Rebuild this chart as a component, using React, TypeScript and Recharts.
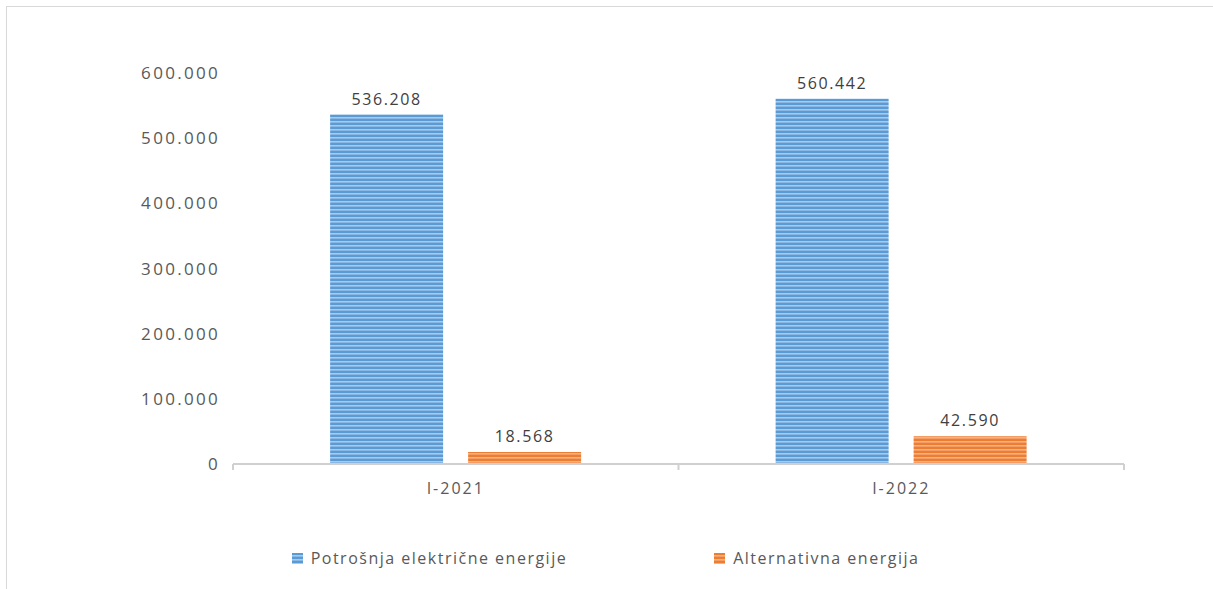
import React from "react";
import { BarChart, Bar, XAxis, YAxis, Legend, LabelList } from "recharts";

const periods = ["I-2021", "I-2022"];
const potrosnja = [536208, 560442];
const alternativna = [18568, 42590];
const yTicks = [0, 100000, 200000, 300000, 400000, 500000, 600000];
const seriesNames = ["Potrošnja električne energije", "Alternativna energija"];

const data = periods.map((p, i) => ({
  period: p,
  potrosnja: potrosnja[i],
  alternativna: alternativna[i],
}));

const fmt = (v: number) => String(v).replace(/\B(?=(\d{3})+(?!\d))/g, ".");

const FONT = "'Open Sans', sans-serif";
const TEXT = "#595959";
const AXIS = "#d0d0d0";

// category label plus the small tick marks at the band edges
function PeriodTick(props: any) {
  const { x, y, payload, index, visibleTicksCount } = props;
  const half = payload && payload.offset ? payload.offset : 0;
  const isLast = index === visibleTicksCount - 1;
  return (
    <g>
      {half > 0 && <line x1={x - half} x2={x - half} y1={y} y2={y + 6} stroke={AXIS} strokeWidth={2} />}
      {half > 0 && isLast && <line x1={x + half} x2={x + half} y1={y} y2={y + 6} stroke={AXIS} strokeWidth={2} />}
      <text
        x={x}
        y={y + 19}
        dy="0.71em"
        textAnchor="middle"
        fill={TEXT}
        fontSize={16}
        fontFamily={FONT}
        letterSpacing={2}
      >
        {payload.value}
      </text>
    </g>
  );
}

function LegendBox() {
  const items = [
    { name: seriesNames[0], fill: "url(#stripeBlue)" },
    { name: seriesNames[1], fill: "url(#stripeOrange)" },
  ];
  return (
    <div
      style={{
        display: "flex",
        justifyContent: "center",
        gap: 147,
        fontFamily: FONT,
        fontSize: 16,
        letterSpacing: 1.5,
        color: TEXT,
        height: 40,
        alignItems: "center",
        paddingRight: 10,
      }}
    >
      {items.map((it) => (
        <div key={it.name} style={{ display: "flex", alignItems: "center" }}>
          <svg width={11} height={11} style={{ marginRight: 8 }}>
            <rect width={11} height={11} fill={it.fill} />
          </svg>
          <span>{it.name}</span>
        </div>
      ))}
    </div>
  );
}

export default function App() {
  return (
    <div
      style={{
        position: "absolute",
        left: 6,
        top: 6,
        width: 1210,
        height: 590,
        borderTop: "1px solid #d9d9d9",
        borderLeft: "1px solid #d9d9d9",
        background: "#fff",
      }}
    >
      <BarChart
        width={1207}
        height={583}
        data={data}
        margin={{ top: 66, right: 90, left: 166, bottom: 12 }}
        barCategoryGap="21.8%"
        barGap={25}
      >
        <defs>
          <pattern id="stripeBlue" width={4} height={4} patternUnits="userSpaceOnUse">
            <rect width={4} height={4} fill="#5b9bd5" />
            <rect y={2} width={4} height={1.6} fill="#a8caeb" />
          </pattern>
          <pattern id="stripeOrange" width={4} height={4} patternUnits="userSpaceOnUse">
            <rect width={4} height={4} fill="#ed7d31" />
            <rect y={2} width={4} height={1.6} fill="#f5b287" />
          </pattern>
        </defs>
        <XAxis
          dataKey="period"
          height={74}
          axisLine={{ stroke: AXIS, strokeWidth: 2 }}
          tickLine={false}
          tickSize={0}
          tickMargin={0}
          tick={<PeriodTick />}
        />
        <YAxis
          width={60}
          domain={[0, 600000]}
          ticks={yTicks}
          tickFormatter={fmt}
          axisLine={false}
          tickLine={false}
          tickSize={0}
          tickMargin={13}
          tick={{ fill: TEXT, fontSize: 17, fontFamily: FONT, letterSpacing: 2.3 }}
        />
        <Legend
          verticalAlign="bottom"
          height={40}
          wrapperStyle={{ left: 0, width: 1207 }}
          content={() => <LegendBox />}
        />
        <Bar dataKey="potrosnja" name={seriesNames[0]} fill="url(#stripeBlue)" isAnimationActive={false}>
          <LabelList
            dataKey="potrosnja"
            position="top"
            offset={10}
            formatter={(v: any) => fmt(Number(v))}
            style={{ fill: "#404040", fontSize: 16, fontFamily: FONT, letterSpacing: 1.6 }}
          />
        </Bar>
        <Bar dataKey="alternativna" name={seriesNames[1]} fill="url(#stripeOrange)" isAnimationActive={false}>
          <LabelList
            dataKey="alternativna"
            position="top"
            offset={10}
            formatter={(v: any) => fmt(Number(v))}
            style={{ fill: "#404040", fontSize: 16, fontFamily: FONT, letterSpacing: 1.6 }}
          />
        </Bar>
      </BarChart>
    </div>
  );
}
